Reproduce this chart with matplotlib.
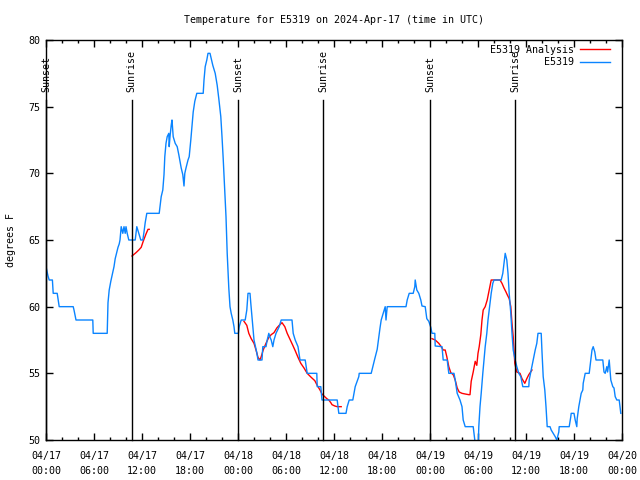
import numpy as np
import matplotlib
matplotlib.use('Agg')
import matplotlib.pyplot as plt

# hours since 2024-04-17 00:00 UTC, temperature in degrees F
obs_t = [0.0, 0.25, 0.4, 0.8, 0.9, 1.4, 1.65, 3.4, 3.5, 3.75, 5.85, 5.9, 7.65, 7.75, 7.9,
         8.1, 8.5, 8.65, 8.85, 9.0, 9.15, 9.25, 9.4, 9.6, 9.75, 9.9, 10.0, 10.15, 10.35,
         11.15, 11.35, 11.6, 11.85, 12.1, 12.25, 12.4, 12.6, 14.15, 14.25, 14.4, 14.6, 14.75,
         14.85, 15.0, 15.15, 15.35, 15.4, 15.5, 15.65, 15.75, 15.9, 16.15, 16.4, 16.6, 16.75,
         16.9, 17.1, 17.25, 17.35, 17.5, 17.75, 17.9, 18.1, 18.25, 18.4, 18.6, 18.85, 19.65,
         19.75, 19.9, 20.1, 20.25, 20.5, 20.65, 20.85, 21.15, 21.4, 21.6, 21.85, 22.0, 22.15,
         22.35, 22.5, 22.65, 22.85, 23.0, 23.15, 23.35, 23.5, 23.6, 24.05, 24.15, 24.4, 24.9,
         25.1, 25.25, 25.5, 25.6, 25.75, 26.0, 26.35, 26.5, 27.0, 27.1, 27.5, 27.65, 27.85,
         28.0, 28.15, 28.35, 28.5, 28.75, 29.15, 29.4, 30.75, 30.9, 31.15, 31.5, 31.75, 32.4,
         32.65, 33.85, 33.9, 34.35, 34.5, 36.4, 36.6, 37.5, 37.65, 37.9, 38.35, 38.5, 38.65,
         39.1, 39.15, 40.65, 40.85, 41.1, 41.4, 41.6, 41.75, 41.9, 42.15, 42.4, 42.5, 42.65,
         45.0, 45.15, 45.4, 45.9, 46.1, 46.15, 46.35, 46.6, 46.85, 47.0, 47.4, 47.6, 47.85,
         48.1, 48.25, 48.6, 48.65, 49.5, 49.65, 50.15, 50.35, 51.0, 51.15, 51.4, 51.75, 52.0,
         52.15, 52.4, 53.4, 53.6, 53.75, 54.0, 54.1, 54.25, 54.4, 54.6, 54.75, 54.9, 55.1,
         55.25, 55.5, 55.65, 55.85, 56.0, 56.9, 57.1, 57.25, 57.4, 57.6, 57.75, 57.9, 58.1,
         58.25, 58.4, 58.65, 58.85, 59.1, 59.35, 59.6, 60.35, 60.4, 60.65, 60.9, 61.15, 61.35,
         61.5, 61.9, 62.0, 62.15, 62.35, 62.5, 62.65, 63.0, 63.15, 63.4, 63.65, 63.85, 64.1,
         64.15, 65.4, 65.6, 65.65, 66.0, 66.15, 66.35, 66.4, 66.6, 66.75, 66.9, 67.1, 67.15,
         67.4, 67.9, 68.1, 68.25, 68.4, 68.6, 68.75, 69.6, 69.75, 69.9, 70.1, 70.2, 70.4,
         70.6, 70.85, 71.0, 71.15, 71.35, 71.65, 71.75, 71.85]
obs_v = [63, 62.3, 62, 62, 61, 61, 60, 60, 59.75, 59, 59, 58, 58, 60.3, 61.25,
         61.9, 63, 63.6, 64.1, 64.45, 64.7, 65, 66, 65.5, 66, 65.5, 66, 65.5, 65,
         65, 66, 65.5, 65, 65, 65.6, 66.3, 67, 67, 67.5, 68.25, 68.75, 69.9,
         71.25, 72.25, 72.75, 73, 72, 72.75, 73.6, 74, 72.75, 72.25, 72, 71.4, 70.9,
         70.4, 69.9, 69.05, 70, 70.4, 71, 71.25, 72.5, 73.6, 74.6, 75.4, 76, 76,
         77, 78, 78.5, 79, 79, 78.6, 78.1, 77.5, 76.6, 75.6, 74.25, 72.75, 71.1,
         68.6, 66.75, 64, 61.4, 60, 59.5, 59, 58.5, 58, 58, 58.5, 59, 59,
         59.75, 61, 61, 60.25, 59.25, 57.5, 56.55, 56, 56, 57, 57, 57.5, 58,
         57.7, 57.5, 57, 57.5, 58, 58.5, 59, 59, 58, 57.5, 57, 56, 56,
         55, 55, 54, 54, 53, 53, 52, 52, 52.5, 53, 53, 53.5, 54,
         54.75, 55, 55, 55.5, 56.1, 56.8, 57.75, 58.4, 59, 59.5, 60, 59, 60,
         60, 60.5, 61, 61, 61.5, 62, 61.25, 61, 60.5, 60.05, 60, 59.1, 58.9,
         58.45, 58, 58, 57.05, 57, 56, 56, 55, 55, 54.5, 53.5, 53, 52.5,
         51.5, 51, 51, 50, 49.0, 49.0, 51, 52.5, 53.5, 55, 56, 57, 58,
         59, 60.25, 61, 61.75, 62, 62, 62.5, 63.25, 64, 63.5, 62.5, 61, 59.5,
         58, 56.75, 56, 55.5, 55, 54.75, 54, 54, 54.5, 55.25, 56, 56.75, 57.25,
         58, 58, 56.6, 54.75, 53.75, 52.5, 51, 51, 50.75, 50.5, 50.25, 50, 50.6,
         51, 51, 51.75, 52, 52, 51.5, 51, 51.6, 52.5, 53, 53.5, 53.75, 54.25,
         55, 55, 56, 56.75, 57, 56.6, 56, 56, 55.1, 55, 55.5, 55.1, 56,
         54.5, 54, 53.9, 53.25, 53, 53, 52.5, 52]

an1_t = [10.75, 11.25, 11.6, 11.9, 12.15, 12.5, 12.75, 12.9]
an1_v = [63.8, 64.05, 64.25, 64.45, 64.9, 65.45, 65.8, 65.8]

an2_t = [24.75, 25.1, 25.35, 25.65, 26.0, 26.25, 26.5, 26.75, 26.9, 27.15, 27.5, 27.85,
         28.15, 28.5, 28.85, 29.15, 29.5, 29.85, 30.15, 30.5, 30.85, 31.15, 31.5, 31.85,
         32.25, 32.65, 33.15, 33.6, 33.9, 34.25, 34.5, 34.75, 35.1, 35.35, 35.6, 35.75,
         36.1, 36.4, 36.9]
an2_v = [58.9, 58.6, 58, 57.6, 57.25, 56.75, 56.2, 56, 56.25, 56.75, 57.25, 57.7,
         57.9, 58.05, 58.4, 58.6, 58.8, 58.5, 58, 57.55, 57.1, 56.7, 56.2, 55.75,
         55.4, 55, 54.7, 54.45, 54.1, 53.75, 53.45, 53.3, 53.1, 53, 52.8, 52.65,
         52.55, 52.5, 52.5]

an3_t = [48.25, 48.65, 49.1, 49.4, 49.65, 49.9, 50.1, 50.35, 50.6, 50.9, 51.15, 51.4,
         51.65, 52.0, 52.4, 52.85, 53.0, 53.15, 53.4, 53.65, 53.85, 54.0, 54.15, 54.35,
         54.5, 54.65, 54.9, 55.15, 55.4, 55.65, 56.75, 57.0, 57.25, 57.5, 57.65, 57.9,
         58.1, 58.25, 58.4, 58.6, 58.85, 59.25, 59.5, 59.85, 60.1, 60.35, 60.75]
an3_v = [57.6, 57.5, 57.25, 57, 56.75, 56.75, 56.25, 55.5, 55.05, 54.9, 54.5, 53.9,
         53.6, 53.5, 53.45, 53.4, 53.4, 54.4, 55.1, 55.9, 55.6, 56.5, 57, 57.9,
         59, 59.75, 60, 60.5, 61.25, 62, 62, 61.75, 61.4, 61.1, 60.9, 60.6,
         60, 58.75, 57.75, 55.75, 55.1, 55, 54.6, 54.25, 54.6, 54.9, 55.25]

sun_t = [0.0, 10.7, 24.03, 34.67, 48.04, 58.67]
sun_lbl = ['Sunset', 'Sunrise', 'Sunset', 'Sunrise', 'Sunset', 'Sunrise']

xtick_h = list(range(0, 73, 6))
xtick_lbl = ['04/17\n00:00', '04/17\n06:00', '04/17\n12:00', '04/17\n18:00',
             '04/18\n00:00', '04/18\n06:00', '04/18\n12:00', '04/18\n18:00',
             '04/19\n00:00', '04/19\n06:00', '04/19\n12:00', '04/19\n18:00',
             '04/20\n00:00']

plt.rcParams['font.family'] = 'DejaVu Sans Mono'
plt.rcParams['font.size'] = 7.2

fig = plt.figure(figsize=(6.4, 4.8), dpi=100)
ax = fig.add_axes([46/640, 40/480, 576/640, 400/480])

ax.plot(an1_t, an1_v, color='#ff0000', lw=1.0, label='E5319 Analysis')
ax.plot(an2_t, an2_v, color='#ff0000', lw=1.0)
ax.plot(an3_t, an3_v, color='#ff0000', lw=1.0)
ax.plot(obs_t, obs_v, color='#0a84ff', lw=1.0, label='         E5319')

for t, s in zip(sun_t, sun_lbl):
    ax.plot([t, t], [50, 75.5], color='black', lw=1.0, clip_on=False)
    ax.text(t, 76.1, s, rotation=90, ha='center', va='bottom')

ax.set_xlim(0, 72)
ax.set_ylim(50, 80)
ax.set_xticks(xtick_h)
ax.set_xticklabels(xtick_lbl, linespacing=1.6)
ax.set_xticks(range(0, 73, 2), minor=True)
ax.set_yticks(range(50, 81, 5))
ax.tick_params(which='both', direction='in', top=True, right=True, width=1)
ax.tick_params(which='major', length=5)
ax.tick_params(which='minor', length=2.5)
ax.tick_params(axis='x', pad=8)
ax.tick_params(axis='y', pad=4)
for sp in ax.spines.values():
    sp.set_linewidth(1)

ax.set_ylabel('degrees F', labelpad=9)
ax.set_title('Temperature for E5319 on 2024-Apr-17 (time in UTC)', fontsize=7.2, pad=12)

ax.legend(loc='upper right', bbox_to_anchor=(1 - 7/576, 1), frameon=False,
          markerfirst=False, handlelength=3.0, handletextpad=0.6, labelspacing=0.25,
          borderaxespad=0.3, borderpad=0.2)

fig.savefig('out.png', dpi=100)
